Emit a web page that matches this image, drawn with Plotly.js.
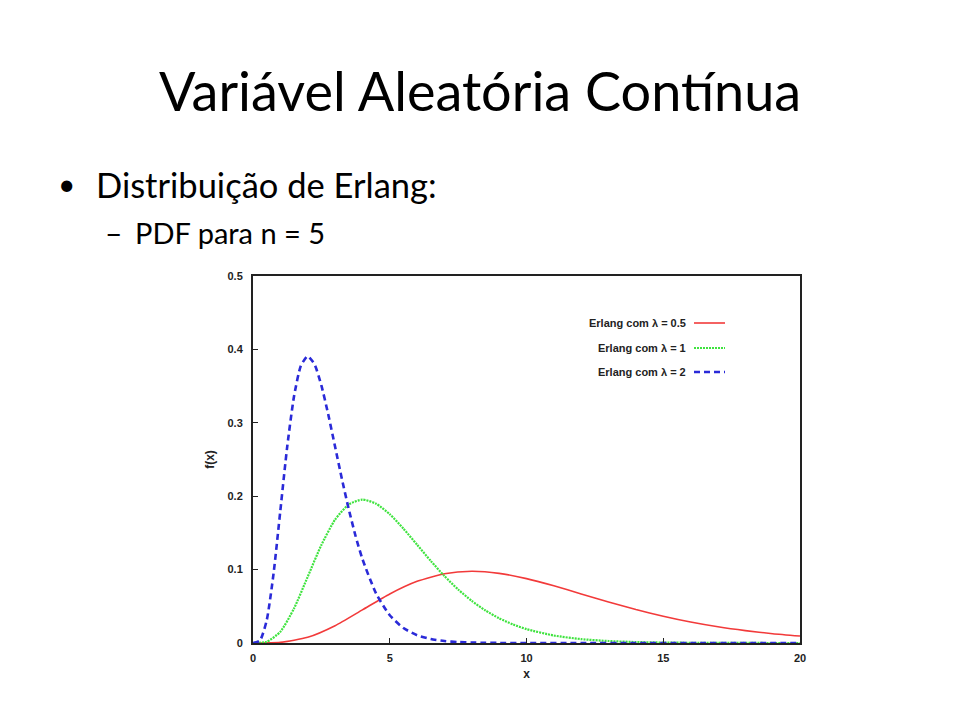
<!DOCTYPE html>
<html>
<head>
<meta charset="utf-8">
<script src="https://cdn.plot.ly/plotly-3.0.1.min.js"></script>
<style>
  html, body { margin: 0; padding: 0; background: #ffffff; }
  #chart { width: 960px; height: 720px; }
</style>
</head>
<body>
<div id="chart"></div>
<script>
// Erlang PDF, n = 5, for three rates (values of f(x))
const xRate05 = [0,1,2,3,4,5,6,7,8,9,10,11,12,13,14,15,16,17,18,19,20];
const yRate05 = [0,0.0008,0.0077,0.0235,0.0451,0.0668,0.0840,0.0944,0.0977,0.0949,0.0877,0.0779,0.0669,0.0559,0.0456,0.0365,0.0286,0.0221,0.0169,0.0127,0.0095];

const xRate1 = [0,0.5,1,1.5,2,2.5,3,3.5,4,4.5,5,5.5,6,6.5,7,7.5,8,8.5,9,9.5,10,11,12,13,14,15,16,17,18,19,20];
const yRate1 = [0,0.0016,0.0153,0.0471,0.0902,0.1336,0.1680,0.1888,0.1954,0.1898,0.1755,0.1558,0.1339,0.1118,0.0912,0.0729,0.0573,0.0443,0.0337,0.0254,0.0189,0.0102,0.0053,0.0027,0.0013,0.0006,0.0003,0.0001,0.0001,0,0];

const xRate2 = [0,0.25,0.5,0.75,1,1.25,1.5,1.75,2,2.25,2.5,2.75,3,3.25,3.5,3.75,4,4.5,5,5.5,6,6.5,7,7.5,8,8.5,9,10,12,14,16,18,20];
const yRate2 = [0,0.0032,0.0307,0.0941,0.1804,0.2672,0.3361,0.3776,0.3907,0.3796,0.3509,0.3116,0.2677,0.2236,0.1825,0.1458,0.1145,0.0675,0.0378,0.0204,0.0106,0.0054,0.0027,0.0013,0.0006,0.0003,0.0001,0,0,0,0,0,0];

const seriesNames = ['Erlang com \u03bb = 0.5', 'Erlang com \u03bb = 1', 'Erlang com \u03bb = 2'];
const xTicks = [0, 5, 10, 15, 20];
const yTicks = [0, 0.1, 0.2, 0.3, 0.4, 0.5];

const slideTitle = 'Variável Aleatória Contínua';
const bulletText = 'Distribuição de Erlang:';
const subBulletText = 'PDF para n = 5';

const colors = ['#f23a3a', '#3fe33f', '#2a2ad8'];
const dashes = ['solid', '2px,1px', '6px,4px'];
const widths = [1.6, 2.2, 2.6];

const xs = [xRate05, xRate1, xRate2];
const ys = [yRate05, yRate1, yRate2];

const traces = xs.map((x, i) => ({
  type: 'scatter',
  mode: 'lines',
  x: x,
  y: ys[i],
  name: seriesNames[i],
  line: { color: colors[i], width: widths[i], dash: dashes[i], shape: 'spline', smoothing: 0.6 },
  hoverinfo: 'skip',
  showlegend: false
}));

// plot area in pixels: x 253..800, y 276..643
const L = 253, R = 800, T = 276, B = 643;
const px = v => (v - L) / (R - L);
const py = v => (B - v) / (B - T);

const slideFont = 'Lato, "Open Sans", sans-serif';
const smallFont = { family: '"Liberation Sans", Arial, sans-serif', size: 11, color: '#222', weight: 'bold' };
const axisTitleFont = { family: '"Liberation Sans", Arial, sans-serif', size: 12, color: '#222', weight: 'bold' };

const annotations = [
  { text: slideTitle, x: px(480), y: py(90), xanchor: 'center', yanchor: 'middle',
    font: { family: slideFont, size: 54, color: '#000' } },
  { text: '\u2022', x: px(56), y: py(183), xanchor: 'left', yanchor: 'middle',
    font: { family: slideFont, size: 30, color: '#000' } },
  { text: bulletText, x: px(94), y: py(184), xanchor: 'left', yanchor: 'middle',
    font: { family: slideFont, size: 34.5, color: '#000' } },
  { text: '\u2013', x: px(103), y: py(232), xanchor: 'left', yanchor: 'middle',
    font: { family: slideFont, size: 30, color: '#000' } },
  { text: subBulletText, x: px(133), y: py(232), xanchor: 'left', yanchor: 'middle',
    font: { family: slideFont, size: 29, color: '#000' } }
];

const legendRows = [323, 348, 372];
const shapes = [];
seriesNames.forEach((name, i) => {
  annotations.push({ text: name, x: px(688), y: py(legendRows[i]), xanchor: 'right', yanchor: 'middle',
    font: { family: '"Liberation Sans", Arial, sans-serif', size: 11, color: '#222', weight: 'bold' } });
  shapes.push({ type: 'line', xref: 'paper', yref: 'paper',
    x0: px(694), x1: px(725), y0: py(legendRows[i]), y1: py(legendRows[i]),
    line: { color: colors[i], width: widths[i], dash: dashes[i] } });
});
annotations.forEach(a => { a.xref = 'paper'; a.yref = 'paper'; a.showarrow = false; });

const layout = {
  width: 960, height: 720,
  paper_bgcolor: '#ffffff', plot_bgcolor: '#ffffff',
  margin: { l: L, r: 960 - R, t: T, b: 720 - B, pad: 0 },
  xaxis: {
    range: [0, 20], tickvals: xTicks, ticktext: xTicks.map(String),
    ticks: 'inside', ticklen: 5, tickwidth: 1.2, tickcolor: '#222',
    showline: true, linecolor: '#222', linewidth: 2, mirror: true,
    showgrid: false, zeroline: false, tickfont: smallFont, ticklabelstandoff: 4,
    title: { text: 'x', font: axisTitleFont, standoff: 6 }
  },
  yaxis: {
    range: [0, 0.5], tickvals: yTicks, ticktext: yTicks.map(String),
    ticks: 'inside', ticklen: 5, tickwidth: 1.2, tickcolor: '#222',
    showline: true, linecolor: '#222', linewidth: 2, mirror: true,
    showgrid: false, zeroline: false, tickfont: smallFont, ticklabelstandoff: 6,
    title: { text: 'f(x)', font: axisTitleFont, standoff: 10 }
  },
  annotations: annotations,
  shapes: shapes,
  showlegend: false
};

Plotly.newPlot('chart', traces, layout, { displayModeBar: false, staticPlot: true });
</script>
</body>
</html>
